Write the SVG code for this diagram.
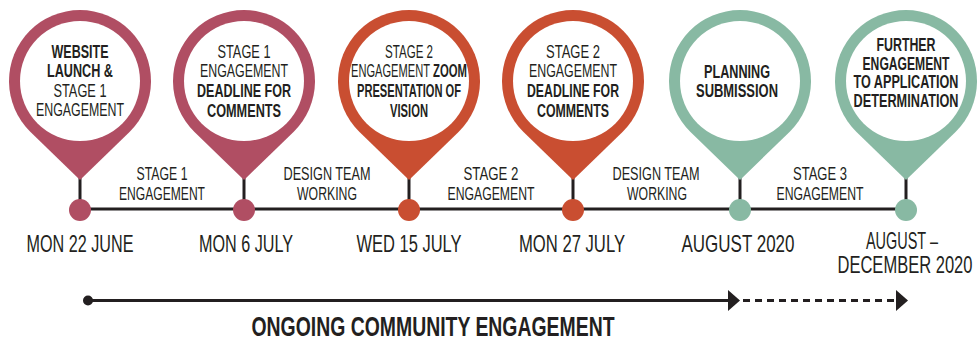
<svg xmlns="http://www.w3.org/2000/svg" width="980" height="341" viewBox="0 0 980 341">
<defs>
<style>
text{font-family:"Liberation Sans","DejaVu Sans",sans-serif;fill:#231f20;text-anchor:middle}
.r{font-size:19px}
.b{font-size:19px;font-weight:bold}
.b17{font-size:17.5px;font-weight:bold}
.s{font-size:18px}
.d{font-size:24px}
.t{font-size:27px;font-weight:bold}
.st{text-anchor:start}
.ln{stroke:#231f20;stroke-width:3;fill:none}
.pink{fill:#b04e63}
.red{fill:#c94e31}
.green{fill:#88b9a3}
.in{fill:#fff}
</style>
<path id="pin" d="M0,180 L-49.5,131.9 A71,71 0 1 1 49.5,131.9 Z"/>
</defs>
<rect width="980" height="341" fill="#fff"/>
<g id="connectors">
<line class="ln" x1="80" y1="209" x2="906" y2="209"/>
<line class="ln" x1="80" y1="178" x2="80" y2="209"/>
<line class="ln" x1="244" y1="178" x2="244" y2="209"/>
<line class="ln" x1="409" y1="178" x2="409" y2="209"/>
<line class="ln" x1="573" y1="178" x2="573" y2="209"/>
<line class="ln" x1="740" y1="178" x2="740" y2="209"/>
<line class="ln" x1="906" y1="178" x2="906" y2="209"/>
<g id="seg-labels">
<text class="s" x="162" y="180" textLength="51" lengthAdjust="spacingAndGlyphs">STAGE 1</text>
<text class="s" x="162" y="200" textLength="86" lengthAdjust="spacingAndGlyphs">ENGAGEMENT</text>
<text class="s" x="327" y="180" textLength="87" lengthAdjust="spacingAndGlyphs">DESIGN TEAM</text>
<text class="s" x="327" y="200" textLength="60" lengthAdjust="spacingAndGlyphs">WORKING</text>
<text class="s" x="491" y="180" textLength="55" lengthAdjust="spacingAndGlyphs">STAGE 2</text>
<text class="s" x="491" y="200" textLength="87" lengthAdjust="spacingAndGlyphs">ENGAGEMENT</text>
<text class="s" x="656" y="180" textLength="87" lengthAdjust="spacingAndGlyphs">DESIGN TEAM</text>
<text class="s" x="657" y="200" textLength="60" lengthAdjust="spacingAndGlyphs">WORKING</text>
<text class="s" x="820" y="180" textLength="54" lengthAdjust="spacingAndGlyphs">STAGE 3</text>
<text class="s" x="820" y="200" textLength="87" lengthAdjust="spacingAndGlyphs">ENGAGEMENT</text>
</g>
</g>
<g id="n1">
<use href="#pin" x="80" class="pink"/>
<circle class="in" cx="80" cy="81" r="60"/>
<circle class="pink" cx="80" cy="210" r="11"/>
<text class="b" x="80" y="58" textLength="57" lengthAdjust="spacingAndGlyphs">WEBSITE</text>
<text class="b" x="80" y="77" textLength="66" lengthAdjust="spacingAndGlyphs">LAUNCH &amp;</text>
<text class="r" x="80" y="97" textLength="53" lengthAdjust="spacingAndGlyphs">STAGE 1</text>
<text class="r" x="80" y="116" textLength="88" lengthAdjust="spacingAndGlyphs">ENGAGEMENT</text>
<text class="d" x="80" y="252" textLength="107" lengthAdjust="spacingAndGlyphs">MON 22 JUNE</text>
</g>
<g id="n2">
<use href="#pin" x="244" class="pink"/>
<circle class="in" cx="244" cy="81" r="60"/>
<circle class="pink" cx="244" cy="210" r="11"/>
<text class="r" x="244" y="58" textLength="53" lengthAdjust="spacingAndGlyphs">STAGE 1</text>
<text class="r" x="244" y="77" textLength="88" lengthAdjust="spacingAndGlyphs">ENGAGEMENT</text>
<text class="b" x="244" y="97" textLength="94" lengthAdjust="spacingAndGlyphs">DEADLINE FOR</text>
<text class="b" x="244" y="117" textLength="74" lengthAdjust="spacingAndGlyphs">COMMENTS</text>
<text class="d" x="246" y="252" textLength="94" lengthAdjust="spacingAndGlyphs">MON 6 JULY</text>
</g>
<g id="n3">
<use href="#pin" x="409" class="red"/>
<circle class="in" cx="409" cy="81" r="60"/>
<circle class="red" cx="409" cy="210" r="11"/>
<g transform="translate(409 0) scale(0.6 1)">
<text class="r" x="0" y="58" textLength="80" lengthAdjust="spacingAndGlyphs">STAGE 2</text>
</g>
<g transform="translate(409 0) scale(0.55 1)">
<text class="r st" x="-105.5" y="77" textLength="143.6" lengthAdjust="spacingAndGlyphs">ENGAGEMENT</text>
<text class="b st" x="43.6" y="77" textLength="61.8" lengthAdjust="spacingAndGlyphs">ZOOM</text>
</g>
<text class="b" x="409" y="97" textLength="104" lengthAdjust="spacingAndGlyphs">PRESENTATION OF</text>
<text class="b" x="409" y="117" textLength="38" lengthAdjust="spacingAndGlyphs">VISION</text>
<text class="d" x="409" y="252" textLength="105" lengthAdjust="spacingAndGlyphs">WED 15 JULY</text>
</g>
<g id="n4">
<use href="#pin" x="573" class="red"/>
<circle class="in" cx="573" cy="81" r="60"/>
<circle class="red" cx="573" cy="210" r="11"/>
<text class="r" x="573" y="58" textLength="54" lengthAdjust="spacingAndGlyphs">STAGE 2</text>
<text class="r" x="573" y="77" textLength="88" lengthAdjust="spacingAndGlyphs">ENGAGEMENT</text>
<text class="b" x="573" y="97" textLength="92" lengthAdjust="spacingAndGlyphs">DEADLINE FOR</text>
<text class="b" x="573" y="117" textLength="72" lengthAdjust="spacingAndGlyphs">COMMENTS</text>
<text class="d" x="572" y="252" textLength="106" lengthAdjust="spacingAndGlyphs">MON 27 JULY</text>
</g>
<g id="n5">
<use href="#pin" x="740" class="green"/>
<circle class="in" cx="740" cy="81" r="60"/>
<circle class="green" cx="740" cy="210" r="11"/>
<text class="b" x="737" y="78" textLength="66" lengthAdjust="spacingAndGlyphs">PLANNING</text>
<text class="b" x="737" y="97" textLength="82" lengthAdjust="spacingAndGlyphs">SUBMISSION</text>
<text class="d" x="738" y="252" textLength="113" lengthAdjust="spacingAndGlyphs">AUGUST 2020</text>
</g>
<g id="n6">
<use href="#pin" x="906" class="green"/>
<circle class="in" cx="906" cy="81" r="60"/>
<circle class="green" cx="906" cy="210" r="11"/>
<g transform="translate(906 0) scale(0.65 1)">
<text class="b17" x="0" y="51.5" textLength="90.8" lengthAdjust="spacingAndGlyphs">FURTHER</text>
<text class="b17" x="0" y="70" textLength="133.8" lengthAdjust="spacingAndGlyphs">ENGAGEMENT</text>
<text class="b17" x="0" y="88.5" textLength="161.5" lengthAdjust="spacingAndGlyphs">TO APPLICATION</text>
<text class="b17" x="0" y="107" textLength="161.5" lengthAdjust="spacingAndGlyphs">DETERMINATION</text>
</g>
<g transform="translate(904 0) scale(0.7 1)">
<text class="d" x="-2.9" y="249" textLength="102.9" lengthAdjust="spacingAndGlyphs">AUGUST –</text>
<text class="d" x="1.4" y="273" textLength="192.9" lengthAdjust="spacingAndGlyphs">DECEMBER 2020</text>
</g>
</g>
<g id="ongoing">
<circle cx="88" cy="300.5" r="5" fill="#231f20"/>
<line class="ln" x1="88" y1="300.5" x2="730" y2="300.5"/>
<polygon points="728,290 740,300.5 728,311" fill="#231f20"/>
<line class="ln" x1="743" y1="300.5" x2="894" y2="300.5" stroke-dasharray="7 5"/>
<polygon points="896,290 908,300.5 896,311" fill="#231f20"/>
<text class="t" x="433" y="335.5" textLength="363" lengthAdjust="spacingAndGlyphs">ONGOING COMMUNITY ENGAGEMENT</text>
</g>
</svg>
